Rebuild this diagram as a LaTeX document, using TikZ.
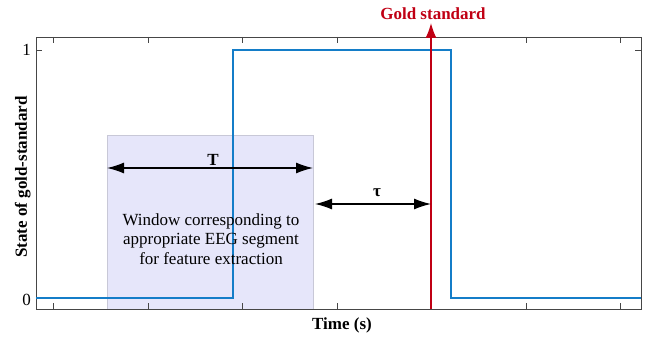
\documentclass[tikz,border=0pt]{standalone}
\usepackage{fontspec}
\setmainfont{Liberation Serif}
\usetikzlibrary{arrows.meta}
\definecolor{axisgrey}{RGB}{70,70,70}
\definecolor{sigblue}{RGB}{20,125,200}
\definecolor{goldred}{RGB}{192,0,20}
\definecolor{winfill}{RGB}{230,230,250}
\definecolor{winedge}{RGB}{200,200,215}
\tikzset{
  axis/.style={draw=axisgrey, line width=0.9pt},
  tick/.style={draw=axisgrey, line width=0.9pt},
  signal/.style={draw=sigblue, line width=1.4pt},
  dimarrow/.style={draw=black, line width=1.3pt, {Latex[length=17pt,width=11pt]}-{Latex[length=17pt,width=11pt]}},
  lbl/.style={font=\fontsize{17}{19.5}\selectfont, inner sep=0pt},
  blbl/.style={font=\fontsize{17}{19.5}\selectfont\bfseries, inner sep=0pt},
}
\begin{document}
\begin{tikzpicture}[x=1pt,y=-1pt]
\useasboundingbox (0,0) rectangle (649,339);
% window for the EEG segment
\fill[winfill, draw=winedge, line width=0.8pt] (107,135) rectangle (313,309);
% axes frame
\coordinate (ll) at (36,309);
\coordinate (ur) at (641,37);
\draw[axis] (ll) rectangle (ur);
% x ticks, bottom and top
\foreach \x in {53,148,242,337,431,526,620}{
  \draw[tick] (\x,309) -- (\x,303);
  \draw[tick] (\x,37) -- (\x,43);
}
% y ticks, left and right
\foreach \y in {50,298}{
  \draw[tick] (36,\y) -- (42,\y);
  \draw[tick] (641,\y) -- (635,\y);
}
\node[lbl, anchor=east] (one) at (31,50) {1};
\node[lbl, anchor=east] (zero) at (31,300) {0};
% gold-standard state signal
\draw[signal] (36,298) -- (233,298) -- (233,50) -- (451,50) -- (451,298) -- (641,298);
% gold standard marker
\coordinate (gbase) at (431,309);
\coordinate (gtip) at (431,23);
\draw[goldred, line width=1.4pt, -{Latex[length=15pt,width=11pt]}] (gbase) -- (gtip);
\node[blbl, text=goldred, anchor=base] (gold) at (433,19.5) {Gold standard};
% window length T
\coordinate (ta) at (107,168);
\coordinate (tb) at (313,168);
\draw[dimarrow] (ta) -- (tb);
\node[blbl, anchor=base] (tlab) at (213,166) {T};
% offset tau
\coordinate (ua) at (315,204);
\coordinate (ub) at (431,204);
\draw[dimarrow] (ua) -- (ub);
\node[blbl, anchor=base] (ulab) at (377,197) {τ};
% window caption
\node[lbl, align=center, anchor=center] (wtext) at (211,239) {Window corresponding to\\appropriate EEG segment\\for feature extraction};
% axis titles
\node[blbl, anchor=base] (xlab) at (342,330) {Time (s)};
\node[blbl, rotate=90, anchor=base] (ylab) at (27,177) {State of gold-standard};
\end{tikzpicture}
\end{document}
